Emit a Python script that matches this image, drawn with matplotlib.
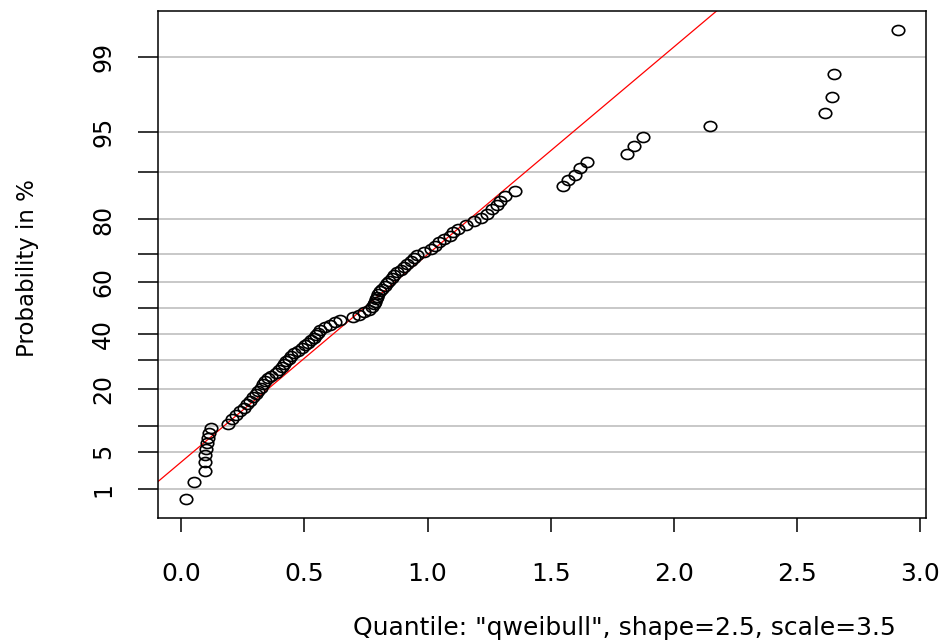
import numpy as np
import matplotlib
matplotlib.use("Agg")
import matplotlib.pyplot as plt
from matplotlib.path import Path
from matplotlib.transforms import Affine2D

# Weibull reference distribution used for the probability axis
SHAPE = 2.5
SCALE = 3.5

# Observed sample (sorted)
sample = [
    0.019, 0.051, 0.095, 0.096, 0.097, 0.100, 0.104, 0.108, 0.112, 0.120,
    0.189, 0.207, 0.222, 0.240, 0.256, 0.266, 0.278, 0.290, 0.302, 0.312,
    0.322, 0.330, 0.340, 0.352, 0.366, 0.383, 0.397, 0.408, 0.418, 0.427,
    0.436, 0.445, 0.458, 0.474, 0.490, 0.504, 0.515, 0.527, 0.537, 0.546,
    0.554, 0.565, 0.585, 0.605, 0.625, 0.645, 0.698, 0.722, 0.742, 0.762,
    0.775, 0.782, 0.787, 0.791, 0.795, 0.799, 0.806, 0.815, 0.826, 0.836,
    0.845, 0.855, 0.864, 0.876, 0.893, 0.905, 0.918, 0.932, 0.945, 0.958,
    0.985, 1.012, 1.030, 1.045, 1.065, 1.090, 1.105, 1.125, 1.155, 1.190,
    1.215, 1.240, 1.262, 1.280, 1.296, 1.316, 1.353, 1.551, 1.572, 1.598,
    1.618, 1.647, 1.809, 1.838, 1.873, 2.148, 2.615, 2.641, 2.651, 2.908,
]

prob_ticks = [1, 5, 10, 20, 30, 40, 50, 60, 70, 80, 90, 95, 99]
prob_labels = ["1", "5", "", "20", "", "40", "", "60", "", "80", "", "95", "99"]
x_ticks = [0.0, 0.5, 1.0, 1.5, 2.0, 2.5, 3.0]
x_labels = ["0.0", "0.5", "1.0", "1.5", "2.0", "2.5", "3.0"]

# Reference line in quantile space: q = intercept + slope * x
LINE_INTERCEPT = 0.929
LINE_SLOPE = 2.828


def to_quantile(pct):
    p = np.clip(np.asarray(pct, dtype=float) / 100.0, 1e-12, 1 - 1e-12)
    return SCALE * (-np.log1p(-p)) ** (1.0 / SHAPE)


def from_quantile(q):
    q = np.clip(np.asarray(q, dtype=float), 0.0, None)
    return 100.0 * (-np.expm1(-(q / SCALE) ** SHAPE))


x = np.sort(np.asarray(sample))
n = len(x)
# plotting positions (ppoints) in percent
pct = (np.arange(1, n + 1) - 0.5) / n * 100.0

W, H = 946, 640
fig = plt.figure(figsize=(W / 100, H / 100), dpi=100)
ax = fig.add_axes([157.5 / W, (H - 518) / H, (926 - 157.5) / W, (518 - 11) / H])
ax.set_yscale("function", functions=(to_quantile, from_quantile))

# limits: data range widened by 4% on each side (in quantile space for y)
xr = x.max() - x.min()
ax.set_xlim(x.min() - 0.04 * xr, x.max() + 0.04 * xr)
q_lo, q_hi = to_quantile(pct[0]), to_quantile(pct[-1])
qr = q_hi - q_lo
ax.set_ylim(from_quantile(q_lo - 0.04 * qr), from_quantile(q_hi + 0.04 * qr))

ax.set_yticks(prob_ticks, prob_labels)
ax.set_xticks(x_ticks, x_labels)
ax.grid(axis="y", color="#c4c4c4", linewidth=1.3)
ax.grid(axis="x", visible=False)
ax.set_axisbelow(True)

# reference line
xs = np.linspace(*ax.get_xlim(), 400)
ax.plot(xs, from_quantile(LINE_INTERCEPT + LINE_SLOPE * xs), color="#ff0000",
        linewidth=0.9, zorder=2)

# sample points as open (slightly wide) circles
ring = Path.unit_circle().transformed(Affine2D().scale(1.25, 1.0))
ax.plot(x, pct, linestyle="none", marker=ring, markersize=9.0,
        markerfacecolor="none", markeredgecolor="black", markeredgewidth=1.2,
        zorder=3)

for s in ax.spines.values():
    s.set_linewidth(1.1)
    s.set_color("black")

ax.tick_params(axis="x", length=10, width=1.1, pad=22, labelsize=18,
               direction="out")
ax.tick_params(axis="y", length=14.4, width=1.1, pad=16, labelsize=17,
               direction="out", labelrotation=90)
for lab in ax.get_yticklabels():
    lab.set_verticalalignment("center")

ax.set_ylabel("Probability in %", fontsize=16.5, va="center", ha="center")
ax.yaxis.set_label_coords((27 - 157.5) / (926 - 157.5), 0.5 - 4 / 507)
ax.set_xlabel('Quantile: "qweibull", shape=2.5, scale=3.5', fontsize=18,
              va="center", ha="center")
ax.xaxis.set_label_coords((624 - 157.5) / (926 - 157.5), (518 - 628) / 507)

fig.savefig("out.png", dpi=100)
